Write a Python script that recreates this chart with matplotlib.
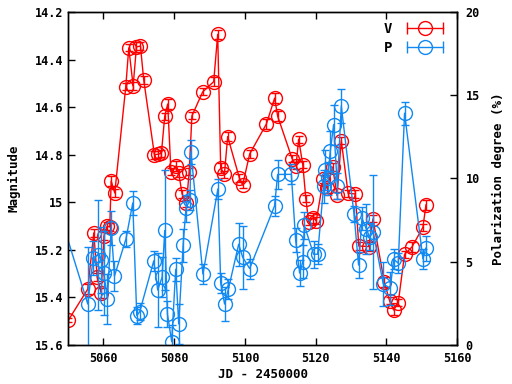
import matplotlib
matplotlib.use("Agg")
import matplotlib.pyplot as plt
from matplotlib.lines import Line2D
from matplotlib.legend_handler import HandlerLine2D, HandlerTuple
from matplotlib.ticker import FormatStrFormatter

# V magnitude
v_jd = [5050.1, 5055.56, 5057.26, 5058.22, 5059.35, 5060.14, 5061.05, 5061.78, 5062.18, 5063.19,
        5066.30, 5067.15, 5068.39, 5069.32, 5070.45, 5071.38, 5074.41, 5075.34, 5076.38, 5077.32,
        5078.16, 5079.07, 5080.56, 5081.27, 5082.23, 5083.45, 5084.24, 5085.0, 5088.05, 5091.16,
        5092.29, 5093.14, 5094.18, 5095.11, 5098.42, 5099.35, 5101.33, 5106.05, 5108.39, 5109.24,
        5113.31, 5114.44, 5115.17, 5116.36, 5117.21, 5118.0, 5119.32, 5120.17, 5122.15, 5123.19,
        5124.77, 5126.02, 5127.23, 5129.15, 5131.19, 5132.18, 5134.94, 5136.19, 5139.38, 5140.88,
        5142.01, 5143.33, 5145.11, 5147.2, 5150.31, 5151.16]
v_mag = [15.495, 15.365, 15.129, 15.314, 15.381, 15.142, 15.100, 15.104, 14.911, 14.961,
         14.515, 14.351, 14.511, 14.347, 14.343, 14.486, 14.801, 14.798, 14.794, 14.638,
         14.587, 14.871, 14.847, 14.877, 14.965, 15.004, 14.871, 14.637, 14.536, 14.493,
         14.294, 14.856, 14.883, 14.724, 14.898, 14.927, 14.797, 14.671, 14.562, 14.638,
         14.816, 14.847, 14.735, 14.843, 14.985, 15.082, 15.066, 15.077, 14.902, 14.941,
         14.852, 14.971, 14.741, 14.962, 14.965, 15.184, 15.186, 15.070, 15.335, 15.414,
         15.453, 15.422, 15.219, 15.188, 15.105, 15.011]
v_err = [0.01, 0.02, 0.015, 0.015, 0.02, 0.015, 0.015, 0.015, 0.02, 0.015,
         0.015, 0.015, 0.015, 0.02, 0.015, 0.015, 0.015, 0.015, 0.015, 0.015,
         0.02, 0.015, 0.02, 0.015, 0.015, 0.015, 0.015, 0.015, 0.015, 0.02,
         0.02, 0.02, 0.015, 0.02, 0.015, 0.015, 0.015, 0.02, 0.02, 0.02,
         0.015, 0.015, 0.015, 0.015, 0.015, 0.015, 0.02, 0.015, 0.015, 0.02,
         0.015, 0.015, 0.015, 0.015, 0.015, 0.015, 0.02, 0.015, 0.02, 0.015,
         0.02, 0.015, 0.015, 0.02, 0.015, 0.02]

# polarization degree
p_jd = [5048.0, 5055.56, 5057.09, 5058.39, 5059.35, 5060.08, 5061.13, 5062.18, 5063.11, 5066.36,
        5068.28, 5069.41, 5070.25, 5074.21, 5075.34, 5076.58, 5077.32, 5078.08, 5079.29, 5080.42,
        5081.27, 5082.51, 5083.31, 5084.44, 5084.72, 5088.11, 5092.34, 5093.14, 5094.24, 5095.31,
        5098.22, 5099.35, 5101.33, 5108.36, 5109.24, 5113.11, 5114.32, 5115.45, 5116.36, 5116.78,
        5119.41, 5120.54, 5122.23, 5122.71, 5123.36, 5124.12, 5125.06, 5126.1, 5127.23, 5130.82,
        5132.12, 5133.08, 5134.29, 5135.23, 5136.27, 5139.1, 5141.07, 5142.06, 5143.33, 5145.11,
        5150.31, 5151.1]
p_val = [7.66, 2.46, 5.23, 5.41, 5.11, 4.32, 2.76, 7.03, 4.14, 6.37,
         8.53, 1.77, 2.00, 5.05, 3.30, 4.08, 6.88, 1.86, 0.20, 4.55,
         1.26, 5.98, 8.20, 8.71, 11.59, 4.26, 9.37, 3.72, 2.46, 3.35,
         6.05, 5.27, 4.59, 8.35, 10.24, 10.25, 6.31, 4.32, 5.00, 7.18,
         5.45, 5.45, 9.52, 10.51, 10.01, 11.63, 13.24, 9.55, 14.35, 7.87,
         4.80, 7.61, 6.97, 6.50, 6.79, 3.66, 3.41, 5.15, 4.91, 13.92,
         5.17, 5.81]
p_err = [1.0, 3.4, 1.0, 3.3, 2.0, 2.5, 1.5, 1.0, 0.9, 0.5,
         0.7, 0.5, 0.5, 0.6, 2.2, 1.2, 3.6, 0.8, 1.0, 0.7,
         1.2, 1.0, 0.8, 0.6, 0.7, 0.6, 0.6, 0.6, 1.0, 0.6,
         1.3, 1.9, 0.6, 0.6, 0.9, 0.6, 0.7, 0.8, 1.0, 0.8,
         0.8, 0.6, 1.0, 1.2, 1.0, 1.2, 1.2, 0.8, 1.0, 0.5,
         0.8, 0.7, 1.5, 0.8, 3.4, 1.3, 1.0, 0.6, 0.6, 0.7,
         0.6, 0.75]

red = "#ff0000"
blue = "#1089f2"
font = "DejaVu Sans Mono"

fig = plt.figure(figsize=(5.12, 3.84), dpi=100)
ax = fig.add_axes([0.133, 0.1016, 0.760, 0.8672])
ax2 = ax.twinx()

ax.errorbar(v_jd, v_mag, yerr=v_err, color=red, marker="o", ms=10, mfc="none",
            mew=1, lw=1, elinewidth=1, capsize=3, capthick=1)
ax2.errorbar(p_jd, p_val, yerr=p_err, color=blue, marker="o", ms=10, mfc="none",
             mew=1, lw=1, elinewidth=1, capsize=3, capthick=1)

ax.set_xlim(5050, 5160)
ax.set_ylim(15.6, 14.2)
ax2.set_ylim(0, 20)
ax.set_xticks([5060, 5080, 5100, 5120, 5140, 5160])
ax.set_yticks([14.2, 14.4, 14.6, 14.8, 15.0, 15.2, 15.4, 15.6])
ax.yaxis.set_major_formatter(FormatStrFormatter("%g"))
ax2.set_yticks([0, 5, 10, 15, 20])

ax.tick_params(direction="in", top=True, length=5, labelsize=8.5, width=1)
ax.tick_params(axis="x", pad=5)
ax2.tick_params(direction="in", length=5, labelsize=8.5, width=1, pad=6)
for a in (ax, ax2):
    for lab in a.get_xticklabels() + a.get_yticklabels():
        lab.set_fontfamily(font)
        lab.set_fontweight("bold")
    for s in a.spines.values():
        s.set_linewidth(1)

ax.set_xlabel("JD - 2450000", fontfamily=font, fontweight="bold", fontsize=9, labelpad=2)
ax.set_ylabel("Magnitude", fontfamily=font, fontweight="bold", fontsize=9, labelpad=10)
ax2.set_ylabel("Polarization degree (%)", fontfamily=font, fontweight="bold", fontsize=9,
               labelpad=9)

# gnuplot-like key: label left, line with end caps and circle
caps_v = Line2D([], [], color=red, marker="|", ms=8, lw=1)
circ_v = Line2D([], [], color=red, marker="o", ms=10, mfc="none", lw=0)
caps_p = Line2D([], [], color=blue, marker="|", ms=8, lw=1)
circ_p = Line2D([], [], color=blue, marker="o", ms=10, mfc="none", lw=0)
ax2.legend([(caps_v, circ_v), (caps_p, circ_p)], ["V", "P"],
           handler_map={caps_v: HandlerLine2D(numpoints=2), caps_p: HandlerLine2D(numpoints=2),
                        tuple: HandlerTuple(ndivide=1)},
           markerfirst=False, frameon=False, loc="upper right", handlelength=3.2,
           prop={"family": font, "weight": "bold", "size": 10},
           borderaxespad=0.3, labelspacing=0.4)

fig.savefig("out.png", dpi=100)
